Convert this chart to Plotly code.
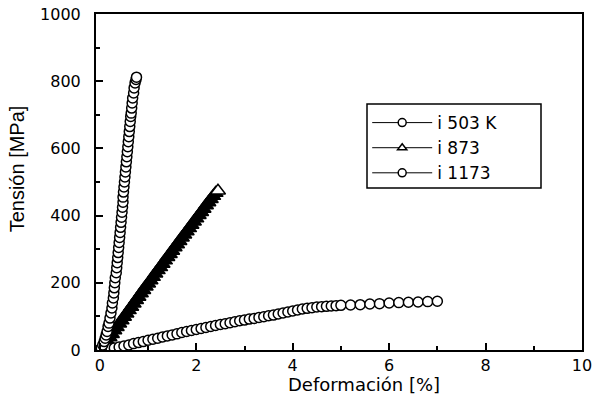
import plotly.graph_objects as go

# ---- data ----
labels = ["i 503 K", "i 873", "i 1173"]

x_503 = [0.00, 0.03, 0.06, 0.09, 0.11, 0.13, 0.15, 0.17, 0.19, 0.21, 0.23, 0.25, 0.26, 0.28, 0.29,
         0.30, 0.31, 0.32, 0.34, 0.35, 0.36, 0.37, 0.38, 0.39, 0.40, 0.41, 0.42, 0.43, 0.44, 0.45,
         0.46, 0.47, 0.48, 0.48, 0.49, 0.50, 0.51, 0.52, 0.53, 0.54, 0.55, 0.56, 0.57, 0.58, 0.59,
         0.60, 0.61, 0.62, 0.63, 0.64, 0.65, 0.66, 0.67, 0.68, 0.70, 0.71, 0.73, 0.75, 0.76]
y_503 = [0, 5, 15, 25, 35, 45, 55, 70, 80, 95, 110, 125, 140, 155, 170,
         185, 200, 215, 230, 245, 260, 275, 290, 305, 320, 335, 350, 365, 380, 395,
         410, 425, 440, 455, 470, 485, 500, 515, 530, 545, 560, 575, 590, 605, 620,
         635, 650, 665, 680, 695, 705, 720, 735, 750, 765, 780, 795, 805, 812]

x_873 = [0.00, 0.05, 0.10, 0.15, 0.20, 0.25, 0.30, 0.35, 0.40, 0.45, 0.50, 0.55, 0.60, 0.65, 0.70,
         0.75, 0.80, 0.85, 0.90, 0.95, 1.00, 1.05, 1.10, 1.15, 1.20, 1.25, 1.30, 1.35, 1.40, 1.45,
         1.50, 1.55, 1.60, 1.65, 1.70, 1.75, 1.80, 1.85, 1.90, 1.95, 2.00, 2.05, 2.10, 2.15, 2.20,
         2.25, 2.30, 2.35, 2.40, 2.45]
y_873 = [0, 8, 17, 27, 37, 47, 58, 68, 78, 88, 98, 108, 118, 128, 138,
         148, 158, 168, 178, 188, 197, 207, 217, 227, 237, 246, 256, 266, 276, 285,
         295, 305, 314, 324, 334, 343, 353, 362, 372, 382, 391, 401, 410, 420, 430,
         439, 449, 458, 467, 474]

x_1173 = [0.0, 0.1, 0.2, 0.3, 0.4, 0.5, 0.6, 0.7, 0.8, 0.9, 1.0, 1.1, 1.2, 1.3, 1.4, 1.5, 1.6,
          1.7, 1.8, 1.9, 2.0, 2.1, 2.2, 2.3, 2.4, 2.5, 2.6, 2.7, 2.8, 2.9, 3.0, 3.1, 3.2, 3.3,
          3.4, 3.5, 3.6, 3.7, 3.8, 3.9, 4.0, 4.1, 4.2, 4.3, 4.4, 4.5, 4.6, 4.7, 4.8, 4.9, 5.0,
          5.2, 5.4, 5.6, 5.8, 6.0, 6.2, 6.4, 6.6, 6.8, 7.0]
y_1173 = [0, 2, 4, 6, 9, 12, 15, 19, 22, 25, 29, 32, 35, 39, 42, 45, 48,
          52, 55, 58, 61, 64, 67, 70, 73, 76, 78, 81, 84, 87, 89, 92, 94, 97,
          99, 102, 104, 107, 110, 113, 116, 119, 122, 124, 126, 128, 129, 130, 131, 132, 133,
          134, 135, 137, 138, 140, 141, 142, 143, 144, 145]

x_ticks = [0, 2, 4, 6, 8, 10]
y_ticks = [0, 200, 400, 600, 800, 1000]

# ---- figure ----
fig = go.Figure()

tri_fill = ["black"] * (len(x_873) - 1) + ["white"]
fig.add_trace(go.Scatter(x=x_873, y=y_873, mode="markers", showlegend=False,
                         marker=dict(symbol="triangle-up", size=13, color=tri_fill,
                                     line=dict(color="black", width=1.5))))
fig.add_trace(go.Scatter(x=x_1173, y=y_1173, mode="markers", showlegend=False,
                         marker=dict(symbol="circle", size=10, color="white",
                                     line=dict(color="black", width=1.5))))
fig.add_trace(go.Scatter(x=x_503, y=y_503, mode="markers", showlegend=False,
                         marker=dict(symbol="circle", size=10, color="white",
                                     line=dict(color="black", width=1.5))))

symbols = ["circle", "triangle-up", "circle"]
for lab, sym in zip(labels, symbols):
    fig.add_trace(go.Scatter(x=[None], y=[None], mode="lines+markers", name=lab,
                             line=dict(color="black", width=1),
                             marker=dict(symbol=sym, size=8, color="white",
                                         line=dict(color="black", width=1.5))))

axis_common = dict(showline=True, linecolor="black", linewidth=2, mirror=True,
                   ticks="inside", ticklen=7, tickwidth=1.5, tickcolor="black",
                   showgrid=False, zeroline=False, automargin=False,
                   ticklabeloverflow="allow",
                   tickfont=dict(family="DejaVu Sans", size=16, color="black"))

L, R, T, B = 96, 13, 14, 44
fig.update_layout(
    width=595, height=394,
    margin=dict(l=L, r=R, t=T, b=B, autoexpand=False),
    paper_bgcolor="white", plot_bgcolor="white",
    xaxis=dict(range=[-0.08, 10], tickvals=x_ticks, ticktext=[str(v) for v in x_ticks],
               minor=dict(dtick=1, ticks="inside", ticklen=4, tickwidth=1.5, tickcolor="black"),
               ticklabelstandoff=0, **axis_common),
    yaxis=dict(range=[0, 1000], tickvals=y_ticks, ticktext=[str(v) for v in y_ticks],
               minor=dict(dtick=100, ticks="inside", ticklen=4, tickwidth=1.5, tickcolor="black"),
               ticklabelstandoff=10, **axis_common),
    legend=dict(x=0.558, y=0.729, xanchor="left", yanchor="top",
                bgcolor="rgba(0,0,0,0)", borderwidth=0,
                itemwidth=60,
                font=dict(family="DejaVu Sans", size=17, color="black")),
    shapes=[dict(type="rect", xref="paper", yref="paper",
                 x0=(367 - L) / 486, x1=(541 - L) / 486,
                 y0=(350 - 188) / 336, y1=(350 - 104) / 336,
                 line=dict(color="black", width=1.5), fillcolor="white", layer="above")],
    annotations=[
        dict(text="Deformación [%]", xref="paper", yref="paper", x=0.551, y=-0.1012,
             xanchor="center", yanchor="middle", showarrow=False,
             font=dict(family="DejaVu Sans", size=18, color="black")),
        dict(text="Tensión [MPa]", xref="paper", yref="paper", x=-0.163, y=0.54,
             xanchor="center", yanchor="middle", showarrow=False, textangle=-90,
             font=dict(family="Liberation Sans Narrow, Liberation Sans", size=20, color="black")),
    ],
)

fig.write_html("out.html", config={"displayModeBar": False},
               post_script="document.body.style.margin='0';")
